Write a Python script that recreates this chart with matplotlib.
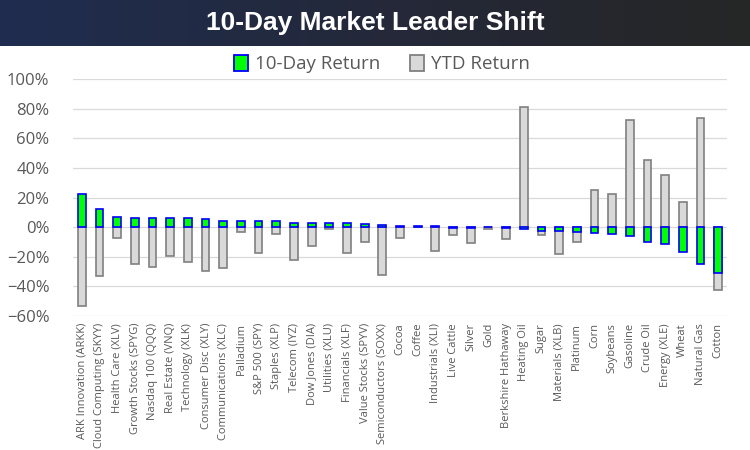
import numpy as np
import matplotlib
matplotlib.use("Agg")
import matplotlib.pyplot as plt
from matplotlib.patches import Patch
from matplotlib.ticker import PercentFormatter

# categories and returns (percent)
names = ["ARK Innovation (ARKK)", "Cloud Computing (SKYY)", "Health Care (XLV)",
         "Growth Stocks (SPYG)", "Nasdaq 100 (QQQ)", "Real Estate (VNQ)",
         "Technology (XLK)", "Consumer Disc (XLY)", "Communications (XLC)",
         "Palladium", "S&P 500 (SPY)", "Staples (XLP)", "Telecom (IYZ)",
         "Dow Jones (DIA)", "Utilities (XLU)", "Financials (XLF)",
         "Value Stocks (SPYV)", "Semiconductors (SOXX)", "Cocoa", "Coffee",
         "Industrials (XLI)", "Live Cattle", "Silver", "Gold",
         "Berkshire Hathaway", "Heating Oil", "Sugar", "Materials (XLB)",
         "Platinum", "Corn", "Soybeans", "Gasoline", "Crude Oil",
         "Energy (XLE)", "Wheat", "Natural Gas", "Cotton"]

ten_day = [22.2, 12.1, 7.0, 6.3, 6.3, 6.3, 6.3, 5.4, 4.0, 4.0, 4.0, 4.0, 2.7,
           2.7, 2.7, 2.7, 2.0, 1.3, 0.9, 0.5, 0.5, -0.3, -0.4, -0.2,
           -0.4, -1.5, -2.5, -2.5, -3.2, -3.8, -4.9, -5.8, -9.9, -11.7,
           -16.6, -25.2, -30.8]

ytd = [-53.0, -32.8, -7.6, -25.2, -26.7, -19.3, -23.8, -29.4, -27.4, -3.6,
       -17.8, -4.9, -22.0, -13.0, -1.6, -17.3, -10.3, -32.0, -7.2, 0.3,
       -16.4, -5.6, -10.5, -1.5, -8.3, 81.0, -5.6, -18.4, -9.9, 25.2, 22.2,
       72.1, 45.4, 35.0, 16.9, 74.0, -42.7]

label_grey = "#595959"
fig = plt.figure(figsize=(7.5, 4.5), dpi=100)

# title band with a navy-to-charcoal gradient
band = fig.add_axes([0, 1 - 46 / 450, 1, 46 / 450])
band.imshow(np.linspace(0, 1, 256).reshape(1, -1), aspect="auto",
            cmap=matplotlib.colors.LinearSegmentedColormap.from_list(
                "band", ["#1F2D50", "#24293A", "#262626"]),
            extent=[0, 1, 0, 1])
band.set_axis_off()
band.text(0.5, 0.5, "10-Day Market Leader Shift", color="white",
          fontsize=19, fontweight="bold", ha="center", va="center",
          fontstretch="condensed",
          family=["Liberation Sans Narrow", "Liberation Sans", "DejaVu Sans"])

ax = fig.add_axes([73 / 750, 1 - 316 / 450, 654 / 750, 237 / 450])
x = np.arange(len(names))
w = 0.44
ax.bar(x, ytd, width=w, color="#D9D9D9", edgecolor="#808080", linewidth=1.2,
       zorder=2)
ax.bar(x, ten_day, width=w, color="#00FF00", edgecolor="#0000FF",
       linewidth=1.2, zorder=3)

ax.set_ylim(-60, 100)
ax.set_yticks(np.arange(-60, 101, 20))
ax.yaxis.set_major_formatter(PercentFormatter(decimals=0))
ax.set_xlim(-0.5, len(names) - 0.5)
ax.grid(axis="y", color="#D9D9D9", linewidth=0.9, zorder=0)
for s in ax.spines.values():
    s.set_visible(False)
ax.tick_params(length=0)
ax.tick_params(axis="y", labelsize=12, labelcolor=label_grey, pad=17)
ax.set_xticks(x)
ax.set_xticklabels(names, rotation=90, fontsize=8, color=label_grey,
                   family="Open Sans")
ax.tick_params(axis="x", pad=5)
for t in ax.get_yticklabels():
    t.set_family("Open Sans")

handles = [Patch(facecolor="#00FF00", edgecolor="#0000FF", linewidth=1.3),
           Patch(facecolor="#D9D9D9", edgecolor="#808080", linewidth=1.3)]
fig.legend(handles, ["10-Day Return", "YTD Return"], loc="center",
           bbox_to_anchor=(382 / 750, 1 - 64 / 450), ncol=2, frameon=False,
           prop={"family": "Open Sans", "size": 13.5}, labelcolor=label_grey,
           handlelength=0.75, handleheight=1.0, handletextpad=0.35,
           columnspacing=1.6)

fig.savefig("out.png", dpi=100)
